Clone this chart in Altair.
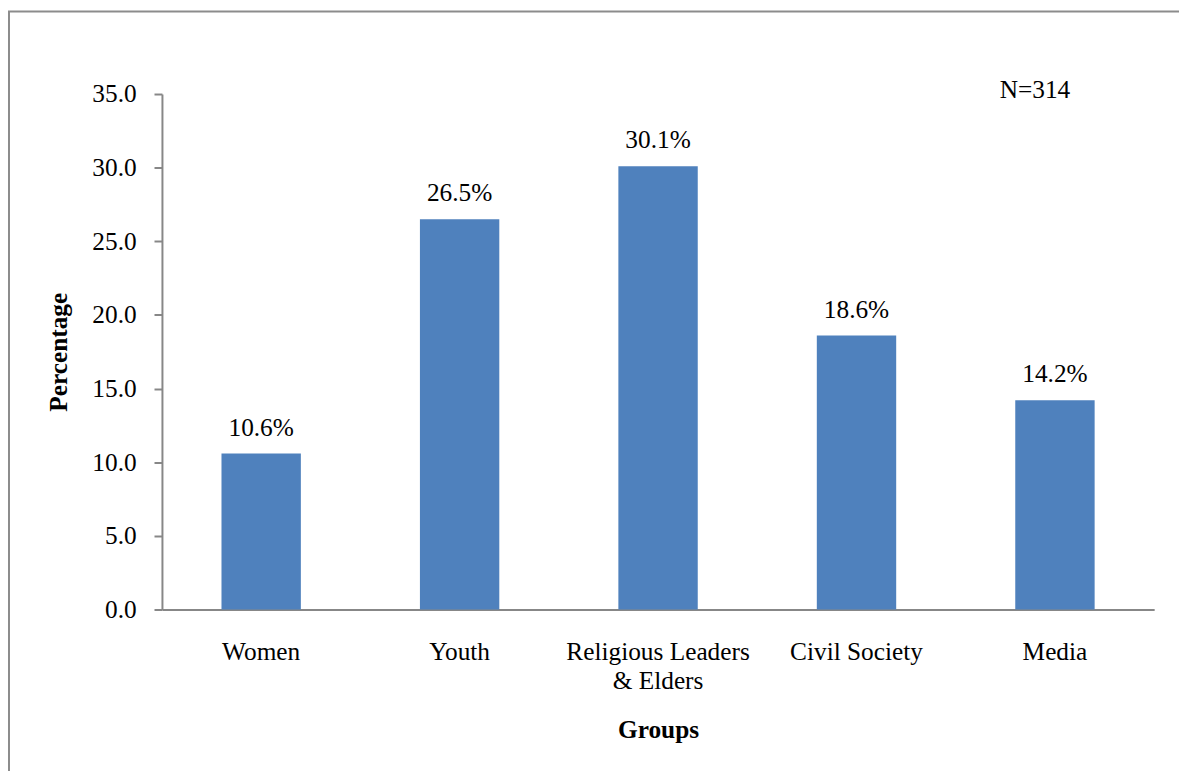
import altair as alt
import pandas as pd

groups = ["Women", "Youth", "Religious Leaders & Elders", "Civil Society", "Media"]
values = [10.6, 26.5, 30.1, 18.6, 14.2]
labels = ["10.6%", "26.5%", "30.1%", "18.6%", "14.2%"]
y_ticks = [0, 5, 10, 15, 20, 25, 30, 35]
note = "N=314"

df = pd.DataFrame({"Group": groups, "Value": values, "Label": labels})

FONT = "Liberation Serif"
FS = 25.5
GRAY = "#878787"

x_enc = alt.X(
    "Group:N",
    sort=groups,
    title="Groups",
    scale=alt.Scale(paddingInner=0.6, paddingOuter=0.3),
    axis=alt.Axis(
        labelAngle=0,
        ticks=False,
        domainColor=GRAY,
        domainWidth=2,
        labelFont=FONT,
        labelFontSize=FS,
        labelColor="black",
        labelPadding=30,
        labelLineHeight=30,
        labelLimit=400,
        labelExpr="datum.value == 'Religious Leaders & Elders' ? ['Religious Leaders', '& Elders'] : datum.label",
        titleFont=FONT,
        titleFontSize=FS,
        titleFontWeight="bold",
        titleColor="black",
        titlePadding=23,
    ),
)
y_enc = alt.Y(
    "Value:Q",
    title="Percentage",
    scale=alt.Scale(domain=[0, 35], nice=False),
    axis=alt.Axis(
        values=y_ticks,
        format=".1f",
        grid=False,
        domainColor=GRAY,
        domainWidth=2,
        tickColor=GRAY,
        tickWidth=2,
        tickSize=8,
        labelFont=FONT,
        labelFontSize=FS,
        labelColor="black",
        labelPadding=18,
        titleFont=FONT,
        titleFontSize=FS,
        titleFontWeight="bold",
        titleColor="black",
        titlePadding=20,
    ),
)

bars = alt.Chart(df).mark_bar(color="#4F81BD").encode(x=x_enc, y=y_enc)
text = alt.Chart(df).mark_text(
    font=FONT, fontSize=FS, color="black", dy=-18, baseline="alphabetic"
).encode(x=alt.X("Group:N", sort=groups), y="Value:Q", text="Label:N")
ann = alt.Chart(pd.DataFrame({"t": [note]})).mark_text(
    font=FONT, fontSize=FS, color="black", baseline="alphabetic"
).encode(x=alt.value(879), y=alt.value(4), text="t:N")

frame_left = alt.Chart(pd.DataFrame({"a": [0]})).mark_rule(color="#8c8c8c", strokeWidth=2).encode(
    x=alt.value(-154), y=alt.value(-83), y2=alt.value(700)
)
frame_top = alt.Chart(pd.DataFrame({"a": [0]})).mark_rule(color="#8c8c8c", strokeWidth=2).encode(
    x=alt.value(-155), x2=alt.value(1100), y=alt.value(-83)
)

chart = alt.layer(bars, text, ann, frame_left, frame_top).properties(
    width=999,
    height=519,
    padding={"left": 155, "top": 84, "right": 25, "bottom": 160},
    autosize=alt.AutoSizeParams(type="none"),
).configure_view(stroke=None)

chart.save("out.html", embed_options={"renderer": "svg", "actions": False})
